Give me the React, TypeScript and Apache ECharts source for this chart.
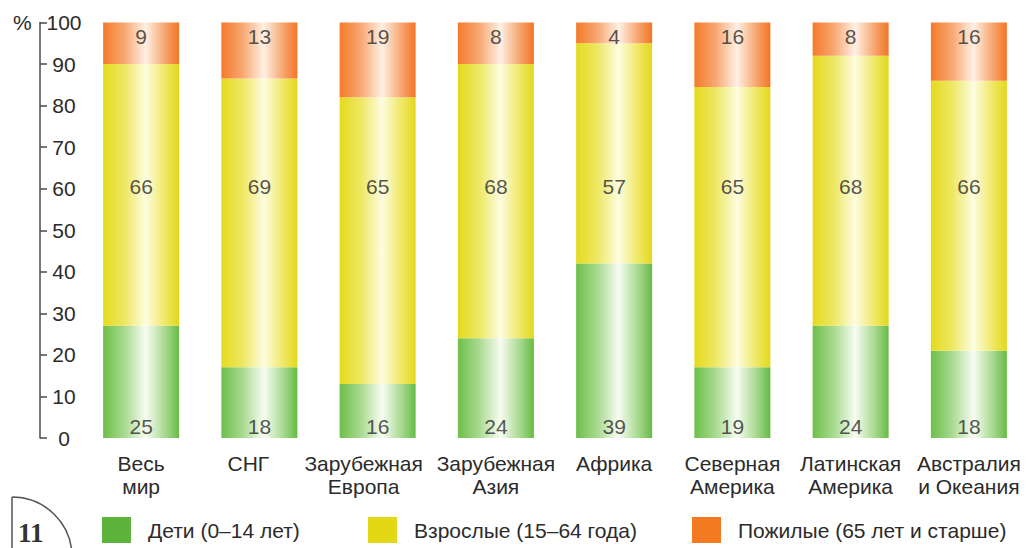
import React, { useEffect, useRef } from "react";
import * as echarts from "echarts";

const categories = [
  "Весь\nмир",
  "СНГ",
  "Зарубежная\nЕвропа",
  "Зарубежная\nАзия",
  "Африка",
  "Северная\nАмерика",
  "Латинская\nАмерика",
  "Австралия\nи Океания",
];

// segment heights as drawn in the picture (percent of the bar)
const childrenHeights = [27, 17, 13, 24, 42, 17, 27, 21];
const adultsHeights = [63, 69.5, 69, 66, 53, 67.5, 65, 65];
const elderlyHeights = [10, 13.5, 18, 10, 5, 15.5, 8, 14];

// printed values
const childrenLabels = [25, 18, 16, 24, 39, 19, 24, 18];
const adultsLabels = [66, 69, 65, 68, 57, 65, 68, 66];
const elderlyLabels = [9, 13, 19, 8, 4, 16, 8, 16];

const seriesNames = [
  "Дети (0–14 лет)",
  "Взрослые (15–64 года)",
  "Пожилые (65 лет и старше)",
];

const yTicks = [0, 10, 20, 30, 40, 50, 60, 70, 80, 90, 100];

const FONT = "'Liberation Sans', Arial, Helvetica, sans-serif";
const TEXT = "#2b2b2b";

const grad = (stops: string[]) => ({
  type: "linear",
  x: 0,
  y: 0,
  x2: 1,
  y2: 0,
  colorStops: [
    { offset: 0, color: stops[0] },
    { offset: 0.28, color: stops[1] },
    { offset: 0.56, color: stops[2] },
    { offset: 0.82, color: stops[3] },
    { offset: 1, color: stops[4] },
  ],
});

const greenGrad = grad(["#6dbf4a", "#a8da90", "#f7fcf2", "#a6d98e", "#66bb44"]);
const yellowGrad = grad(["#e4da1e", "#eee763", "#fdfde0", "#efe763", "#e2d81c"]);
const orangeGrad = grad(["#f37a2a", "#f7a872", "#fff0e4", "#f6a46c", "#f27526"]);

const legendColors = ["#5cb53a", "#e2d816", "#f47a22"];

export default function App() {
  const ref = useRef<HTMLDivElement>(null);

  useEffect(() => {
    if (!ref.current) return;
    const chart = echarts.init(ref.current, undefined, { renderer: "svg" });

    const xData = categories.map((c, i) => {
      if (i === 1) return { value: c, textStyle: { padding: [0, 22, 0, 0] } };
      if (i === 2) return { value: c, textStyle: { padding: [0, 28, 0, 0] } };
      return { value: c };
    });

    const labelSeries = (vals: number[], yPos: number) => ({
      type: "scatter",
      data: categories.map((c, i) => [i, yPos]),
      symbolSize: 1,
      itemStyle: { color: "transparent" },
      silent: true,
      z: 10,
      label: {
        show: true,
        position: "inside",
        formatter: (p: any) => String(vals[p.dataIndex]),
        fontFamily: FONT,
        fontSize: 21,
        color: TEXT,
      },
    });

    const legendBase = {
      bottom: 0,
      itemWidth: 29,
      itemHeight: 26,
      icon: "rect",
      textStyle: {
        fontFamily: FONT,
        fontSize: 21,
        color: TEXT,
        padding: [0, 0, 0, 12],
      },
      selectedMode: false,
    };

    chart.setOption({
      animation: false,
      grid: { left: 82, right: 2, top: 22.5, bottom: 110 },
      xAxis: {
        type: "category",
        data: xData,
        axisLine: { show: false },
        axisTick: { show: false },
        axisLabel: {
          interval: 0,
          fontFamily: FONT,
          fontSize: 21,
          lineHeight: 23,
          color: TEXT,
          margin: 14,
        },
      },
      yAxis: {
        type: "value",
        min: yTicks[0],
        max: yTicks[yTicks.length - 1],
        interval: 10,
        offset: 42,
        splitLine: { show: false },
        axisLine: { show: true, lineStyle: { color: "#4a4a4a", width: 1.5 } },
        axisTick: { show: true, inside: true, length: 7, lineStyle: { color: "#4a4a4a", width: 1.5 } },
        axisLabel: {
          inside: true,
          align: "center",
          margin: 24,
          fontFamily: FONT,
          fontSize: 21,
          color: TEXT,
        },
      },
      legend: [
        { ...legendBase, left: 97, data: [{ name: seriesNames[0], itemStyle: { color: legendColors[0] } }] },
        { ...legendBase, left: 363, data: [{ name: seriesNames[1], itemStyle: { color: legendColors[1] } }] },
        { ...legendBase, left: 687, data: [{ name: seriesNames[2], itemStyle: { color: legendColors[2] } }] },
      ],
      series: [
        {
          name: seriesNames[0],
          type: "bar",
          stack: "total",
          barWidth: 76,
          data: childrenHeights,
          itemStyle: { color: greenGrad },
        },
        {
          name: seriesNames[1],
          type: "bar",
          stack: "total",
          barWidth: 76,
          data: adultsHeights,
          itemStyle: { color: yellowGrad },
        },
        {
          name: seriesNames[2],
          type: "bar",
          stack: "total",
          barWidth: 76,
          data: elderlyHeights,
          itemStyle: { color: orangeGrad },
        },
        labelSeries(childrenLabels, 2.7),
        labelSeries(adultsLabels, 60.5),
        labelSeries(elderlyLabels, 96.6),
      ],
      graphic: [
        {
          type: "text",
          left: 13,
          top: 12,
          style: { text: "%", fontFamily: FONT, fontSize: 21, fill: TEXT },
        },
        {
          type: "line",
          shape: { x1: 12, y1: 497, x2: 12, y2: 548 },
          style: { stroke: "#555", lineWidth: 1.5 },
        },
        {
          type: "arc",
          shape: { cx: 12, cy: 557, r: 60, startAngle: -Math.PI / 2, endAngle: 0, clockwise: true },
          style: { stroke: "#555", lineWidth: 1.5, fill: "none" },
        },
        {
          type: "text",
          left: 18,
          top: 519,
          style: {
            text: "11",
            fontFamily: "'Liberation Serif', 'DejaVu Serif', serif",
            fontWeight: "bold",
            fontSize: 27,
            fill: "#333",
          },
        },
      ],
    });

    return () => chart.dispose();
  }, []);

  return (
    <div
      ref={ref}
      style={{ position: "fixed", left: 0, top: 0, width: 1030, height: 548, background: "#fff" }}
    />
  );
}
